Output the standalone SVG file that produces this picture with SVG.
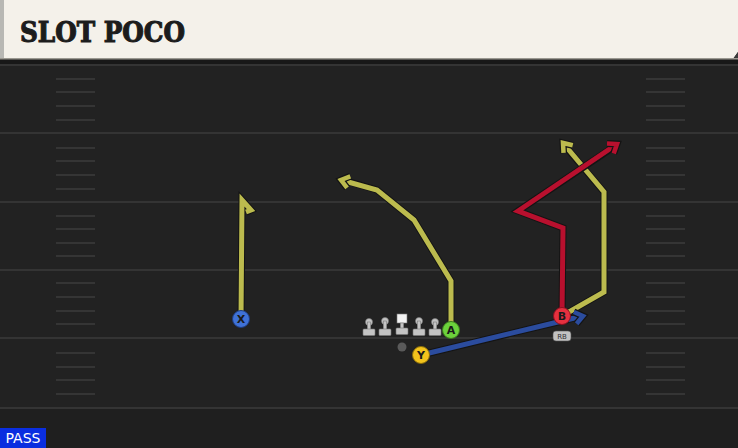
<svg xmlns="http://www.w3.org/2000/svg" width="738" height="448" viewBox="0 0 738 448">
<style>
.yard{stroke:#343434;stroke-width:2}
.hash{stroke:#353535;stroke-width:2}
.out{fill:none;stroke:#141414;stroke-width:7;stroke-linejoin:miter;stroke-linecap:butt}
.rt{fill:none;stroke-width:5;stroke-linejoin:miter;stroke-linecap:butt}
.y{stroke:#bcbb4e}
.r{stroke:#b8102e}
.b{stroke:#2b4c9e}
.lbl{font-family:"DejaVu Sans",sans-serif;font-weight:bold;font-size:11px;fill:#1a1a1a;text-anchor:middle}
.ol{fill:#c4c4c4;stroke:#7a7a7a;stroke-width:0.6}
</style>
<defs>
<marker id="ay" markerUnits="userSpaceOnUse" markerWidth="24" markerHeight="24" viewBox="-12 -12 24 24" refX="0" refY="0" orient="auto">
<path d="M-8,-6 L0,0 L-8,6" fill="none" stroke="#141414" stroke-width="7"/>
<path d="M-8,-6 L0,0 L-8,6" fill="none" stroke="#bcbb4e" stroke-width="4.5"/>
</marker>
<marker id="ar" markerUnits="userSpaceOnUse" markerWidth="24" markerHeight="24" viewBox="-12 -12 24 24" refX="0" refY="0" orient="auto">
<path d="M-8,-6 L0,0 L-8,6" fill="none" stroke="#141414" stroke-width="7"/>
<path d="M-8,-6 L0,0 L-8,6" fill="none" stroke="#b8102e" stroke-width="4.5"/>
</marker>
<marker id="ab" markerUnits="userSpaceOnUse" markerWidth="24" markerHeight="24" viewBox="-12 -12 24 24" refX="0" refY="0" orient="auto">
<path d="M-8,-6 L0,0 L-8,6" fill="none" stroke="#141414" stroke-width="7"/>
<path d="M-8,-6 L0,0 L-8,6" fill="none" stroke="#2b4c9e" stroke-width="4.5"/>
</marker>
</defs>
<rect x="0" y="0" width="738" height="448" fill="#222222"/>
<rect x="0" y="408" width="738" height="40" fill="#1f1f1f"/>
<g id="field">
<line class="yard" x1="0" y1="65" x2="738" y2="65"/>
<line class="yard" x1="0" y1="133" x2="738" y2="133"/>
<line class="yard" x1="0" y1="202" x2="738" y2="202"/>
<line class="yard" x1="0" y1="270" x2="738" y2="270"/>
<line class="yard" x1="0" y1="338" x2="738" y2="338"/>
<line class="yard" x1="0" y1="408" x2="738" y2="408"/>
<g id="hashL">
<line class="hash" x1="56" y1="79" x2="95" y2="79"/><line class="hash" x1="56" y1="92" x2="95" y2="92"/><line class="hash" x1="56" y1="106" x2="95" y2="106"/><line class="hash" x1="56" y1="120" x2="95" y2="120"/>
<line class="hash" x1="56" y1="148" x2="95" y2="148"/><line class="hash" x1="56" y1="161" x2="95" y2="161"/><line class="hash" x1="56" y1="175" x2="95" y2="175"/><line class="hash" x1="56" y1="189" x2="95" y2="189"/>
<line class="hash" x1="56" y1="216" x2="95" y2="216"/><line class="hash" x1="56" y1="229" x2="95" y2="229"/><line class="hash" x1="56" y1="243" x2="95" y2="243"/><line class="hash" x1="56" y1="256" x2="95" y2="256"/>
<line class="hash" x1="56" y1="283" x2="95" y2="283"/><line class="hash" x1="56" y1="297" x2="95" y2="297"/><line class="hash" x1="56" y1="311" x2="95" y2="311"/><line class="hash" x1="56" y1="324" x2="95" y2="324"/>
<line class="hash" x1="56" y1="353" x2="95" y2="353"/><line class="hash" x1="56" y1="367" x2="95" y2="367"/><line class="hash" x1="56" y1="380" x2="95" y2="380"/><line class="hash" x1="56" y1="394" x2="95" y2="394"/>
</g>
<g id="hashR">
<line class="hash" x1="646" y1="79" x2="685" y2="79"/><line class="hash" x1="646" y1="92" x2="685" y2="92"/><line class="hash" x1="646" y1="106" x2="685" y2="106"/><line class="hash" x1="646" y1="120" x2="685" y2="120"/>
<line class="hash" x1="646" y1="148" x2="685" y2="148"/><line class="hash" x1="646" y1="161" x2="685" y2="161"/><line class="hash" x1="646" y1="175" x2="685" y2="175"/><line class="hash" x1="646" y1="189" x2="685" y2="189"/>
<line class="hash" x1="646" y1="216" x2="685" y2="216"/><line class="hash" x1="646" y1="229" x2="685" y2="229"/><line class="hash" x1="646" y1="243" x2="685" y2="243"/><line class="hash" x1="646" y1="256" x2="685" y2="256"/>
<line class="hash" x1="646" y1="283" x2="685" y2="283"/><line class="hash" x1="646" y1="297" x2="685" y2="297"/><line class="hash" x1="646" y1="311" x2="685" y2="311"/><line class="hash" x1="646" y1="324" x2="685" y2="324"/>
<line class="hash" x1="646" y1="353" x2="685" y2="353"/><line class="hash" x1="646" y1="367" x2="685" y2="367"/><line class="hash" x1="646" y1="380" x2="685" y2="380"/><line class="hash" x1="646" y1="394" x2="685" y2="394"/>
</g>
</g>
<g id="header">
<rect x="0" y="58" width="738" height="6" fill="#181818"/>
<path d="M0,0 H738 V52 L733,59 H0 Z" fill="#f4f1ea"/>
<path d="M733,59 L738,52 V59 Z" fill="#3a3a3a"/>
<rect x="0" y="0" width="4" height="59" fill="#b8b8b4"/>
<rect x="0" y="58" width="738" height="1.5" fill="#9a9890"/>
<text x="20" y="42" font-family="'DejaVu Serif Condensed','DejaVu Serif',serif" font-weight="bold" font-size="27" fill="#1c1c1c" stroke="#1c1c1c" stroke-width="1" textLength="165" lengthAdjust="spacingAndGlyphs">SLOT POCO</text>
</g>
<g id="connectors">
<path class="out" d="M241,319 L242,200 L251,210 L246,212"/>
<path class="rt y" d="M241,319 L242,200 L251,210 L246,212"/>
<path class="out" d="M451,330 L451,281 L414,220 L377,190 L343,180"/>
<path class="rt y" d="M451,330 L451,281 L414,220 L377,190 L341,180" marker-end="url(#ay)"/>
<path class="out" d="M562,316 L604,292 L604,192 L565,146"/>
<path class="rt y" d="M562,316 L604,292 L604,192 L563,143" marker-end="url(#ay)"/>
<path class="out" d="M562,316 L563,228 L518,211 L615,146"/>
<path class="rt r" d="M562,316 L563,228 L518,211 L617,144" marker-end="url(#ar)"/>
<path class="out" d="M421,355 L562,321 L581,316"/>
<path class="rt b" d="M421,355 L562,321 L583,316" marker-end="url(#ab)"/>
</g>
<g id="line">
<g class="ol"><circle cx="369" cy="322" r="3.5"/><rect x="367.3" y="322" width="3.4" height="8"/><rect x="363" y="329" width="12" height="6.5" rx="1"/></g>
<g class="ol"><circle cx="385" cy="321" r="3.5"/><rect x="383.3" y="321" width="3.4" height="9"/><rect x="379" y="329" width="12" height="6.5" rx="1"/></g>
<g class="ol"><rect x="397" y="314" width="10" height="9" fill="#f2f2f2"/><rect x="400.3" y="323" width="3.4" height="6"/><rect x="396" y="328" width="12" height="6.5" rx="1"/></g>
<g class="ol"><circle cx="419" cy="321" r="3.5"/><rect x="417.3" y="321" width="3.4" height="9"/><rect x="413" y="329" width="12" height="6.5" rx="1"/></g>
<g class="ol"><circle cx="435" cy="322" r="3.5"/><rect x="433.3" y="322" width="3.4" height="8"/><rect x="429" y="329" width="12" height="6.5" rx="1"/></g>
<circle cx="402" cy="347" r="4.5" fill="#5a5a5a"/>
</g>
<g id="X"><circle cx="241" cy="319" r="8.5" fill="#3f71d6" stroke="#1e3c80" stroke-width="1"/><text class="lbl" x="241" y="323">X</text></g>
<g id="A"><circle cx="451" cy="330" r="8.5" fill="#6cd13c" stroke="#3c7a1e" stroke-width="1"/><text class="lbl" x="451" y="334">A</text></g>
<g id="Y"><circle cx="421" cy="355" r="8.5" fill="#f2c31c" stroke="#8a6d0a" stroke-width="1"/><text class="lbl" x="421" y="359">Y</text></g>
<g id="B"><circle cx="562" cy="316" r="8.5" fill="#e5303f" stroke="#8a1020" stroke-width="1"/><text class="lbl" x="562" y="320">B</text>
<rect x="553" y="331" width="18" height="10" rx="3" fill="#c2c2c2" stroke="#555" stroke-width="0.6"/><text x="562" y="339" font-family="'DejaVu Sans',sans-serif" font-size="7" fill="#333" text-anchor="middle">RB</text></g>
<g id="pass"><rect x="0" y="428" width="46" height="20" fill="#0a2ee0"/><text x="23" y="443" font-family="'DejaVu Sans',sans-serif" font-size="14" fill="#ffffff" text-anchor="middle">PASS</text></g>
</svg>
